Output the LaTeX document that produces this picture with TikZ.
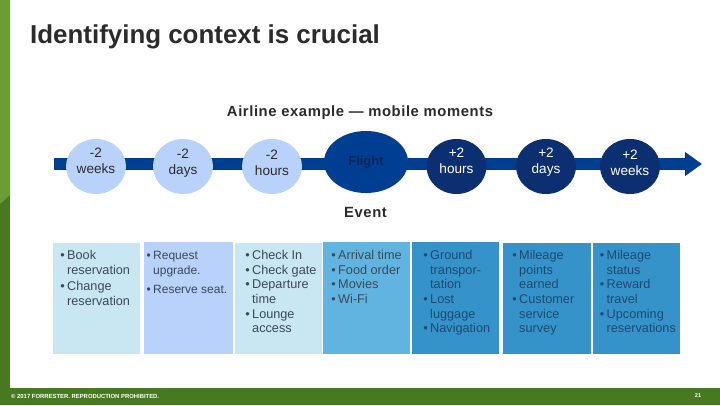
\documentclass[tikz,border=0pt]{standalone}
\usepackage{fontspec}
\setmainfont{Liberation Sans}
\usetikzlibrary{arrows.meta,shapes.geometric}
\definecolor{barblue}{HTML}{003E92}
\definecolor{darkc}{HTML}{0B2F70}
\definecolor{lightc}{HTML}{B8D2FB}
\definecolor{paleb}{HTML}{C9E7F3}
\definecolor{midb}{HTML}{62B4E0}
\definecolor{deepb}{HTML}{3593CA}
\definecolor{gstripe}{HTML}{6A9E35}
\definecolor{gbar}{HTML}{477A20}
\definecolor{ink}{HTML}{2B2B2B}
\definecolor{boxink}{HTML}{3A4A58}
\definecolor{deepink}{HTML}{1C4A72}
\newcommand{\bl}{\llap{\textbullet\hspace{2.5pt}}}
\newcommand{\mom}[3]{\raisebox{#1pt}[0pt][0pt]{\begin{tabular}{@{}c@{}}#2\\#3\end{tabular}}}
\tikzset{
 x=1pt,y=-1pt,
 moment/.style={ellipse,inner sep=0pt,minimum width=60pt,minimum height=55pt,align=center,font=\fontsize{13.6}{16.3}\selectfont},
 early/.style={moment,fill=lightc,text=ink},
 late/.style={moment,fill=darkc,text=white},
 panel/.style={anchor=north west,inner sep=0pt,minimum height=111pt},
 items/.style={anchor=north west,inner sep=0pt,align=left,font=\fontsize{12.7}{14.65}\selectfont},
 head/.style={text=ink,inner sep=0pt,font=\fontsize{14.8}{17}\bfseries\selectfont\addfontfeature{LetterSpace=4}},
}
\begin{document}
\begin{tikzpicture}
\useasboundingbox (0,0) rectangle (720,405);
\fill[white] (0,0) rectangle (720,405);
\fill[gbar] (0,0) rectangle (10,388);
\fill[gstripe] (0,0) -- (10,0) -- (10,195) -- (0,204) -- cycle;
\fill[gbar] (0,388) rectangle (720,405);
\node[text=ink,inner sep=0pt,anchor=west,font=\fontsize{25.9}{30}\bfseries\selectfont] (title) at (30,37) {Identifying context is crucial};
\node[head] (sub) at (360,112.5) {Airline example — mobile moments};
\node[head] (event) at (365.5,212) {Event};
\coordinate (start) at (54,164);
\coordinate (end) at (702,164);
\draw[barblue,line width=12pt,-{Triangle[length=17pt,width=23pt]}] (start) -- (end);
\node[early] (a) at (96,166.5) {\mom{1}{-2}{weeks}};
\node[early] (b) at (183,166.5) {\mom{0}{-2}{days}};
\node[early] (c) at (272,166.5) {\mom{-1}{-2}{hours}};
\node[moment,fill=barblue,text=darkc!80!black,minimum width=84pt,minimum height=62pt,font=\fontsize{13}{15}\bfseries\selectfont] (f) at (366,162) {Flight};
\node[late] (d) at (456.5,166.5) {\mom{0.5}{+2}{hours}};
\node[late] (e) at (546,166.5) {\mom{1}{+2}{days}};
\node[late] (g) at (630,166.5) {\mom{-1}{+2}{weeks}};
\node[panel,fill=paleb,minimum width=87pt] (p1) at (53,243) {};
\node[panel,fill=lightc,minimum width=89pt,minimum height=112pt] (p2) at (144,242) {};
\node[panel,fill=paleb,minimum width=87pt] (p3) at (235,243) {};
\node[panel,fill=midb,minimum width=87pt,minimum height=112pt] (p4) at (323,242) {};
\node[panel,fill=deepb,minimum width=87pt,minimum height=112pt] (p5) at (412,242) {};
\node[panel,fill=deepb,minimum width=88pt] (p6) at (503,243) {};
\node[panel,fill=deepb,minimum width=87pt] (p7) at (593,243) {};
\node[items,text=boxink] (t1) at (67,250) {\bl Book\\[0.5pt]reservation\\[1.5pt]\bl Change\\reservation};
\node[items,text=boxink,font=\fontsize{12}{14.65}\selectfont] (t2) at (153,251) {\bl Request\\upgrade.\\[5pt]\bl Reserve seat.};
\node[items,text=boxink] (t3) at (252,250) {\bl Check In\\\bl Check gate\\\bl Departure\\time\\\bl Lounge\\access};
\node[items,text=boxink] (t4) at (338,250) {\bl Arrival time\\\bl Food order\\\bl Movies\\\bl Wi-Fi};
\node[items,text=deepink] (t5) at (430,250) {\bl Ground\\transpor-\\tation\\\bl Lost\\luggage\\\bl Navigation};
\node[items,text=deepink] (t6) at (519,250) {\bl Mileage\\points\\earned\\\bl Customer\\service\\survey};
\node[items,text=deepink] (t7) at (606.5,250) {\bl Mileage\\status\\\bl Reward\\travel\\\bl Upcoming\\reservations};
\node[anchor=west,inner sep=0pt,text=white,font=\fontsize{5.9}{7}\bfseries\selectfont] (copy) at (11,396) {© 2017 FORRESTER. REPRODUCTION PROHIBITED.};
\node[inner sep=0pt,text=white,font=\fontsize{5.6}{7}\bfseries\selectfont] (num) at (698,396) {21};
\end{tikzpicture}
\end{document}
